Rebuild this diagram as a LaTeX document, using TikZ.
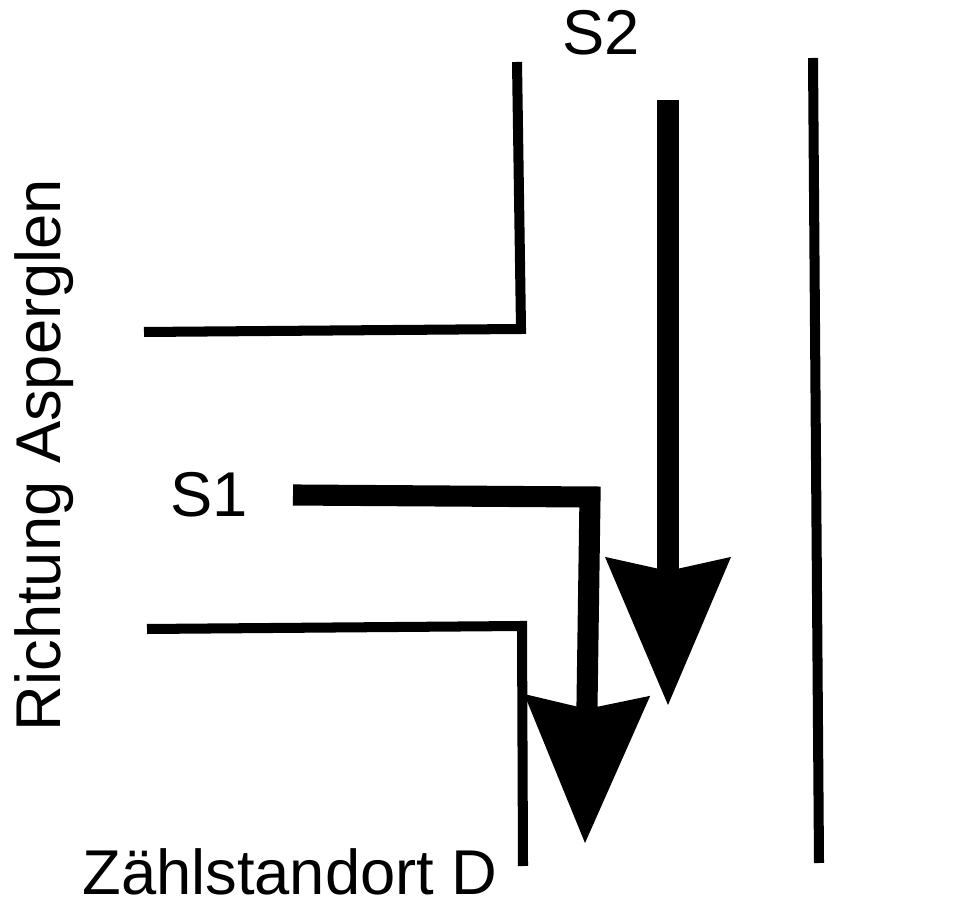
\documentclass[tikz,border=0pt]{standalone}
\usepackage{fontspec}
\setmainfont{Liberation Sans}
\usetikzlibrary{arrows.meta}

\begin{document}
\begin{tikzpicture}[x=0.01cm, y=0.01cm]
\tikzstyle{every node}+=[inner sep=0pt]
\tikzstyle{edge}=[black, line width=2.85pt, line join=miter]
\tikzstyle{flow}=[black, line width=6pt, line join=miter,
  -{Stealth[length=14.8mm, width=12.6mm, inset=1.4mm, line width=0pt]}]
\tikzstyle{lbl}=[font=\fontsize{18}{20}\selectfont]
\useasboundingbox (0,0) rectangle (970,-904);
% road edges
\draw [edge] (144,-332) -- (521,-329) -- (517,-62);
\draw [edge] (147,-629) -- (522,-626) -- (523,-866);
\draw [edge] (813,-58) -- (819,-863);
% flows
\coordinate (s1a) at (293,-495);
\coordinate (s1b) at (590,-497);
\coordinate (s1c) at (585,-843);
\coordinate (s2a) at (668,-100);
\coordinate (s2b) at (668,-705);
\draw [flow] (s1a) -- (s1b) -- (s1c);
\draw [flow] (s2a) -- (s2b);
% labels
\node [lbl, anchor=base] (s1) at (209,-517) {S1};
\node [lbl, anchor=base] (s2) at (601,-55) {S2};
\node [lbl, anchor=base] (zs) at (290,-894) {Zählstandort D};
\node [lbl, anchor=base, rotate=90] (ri) at (60,-455) {Richtung Asperglen};
\end{tikzpicture}
\end{document}
